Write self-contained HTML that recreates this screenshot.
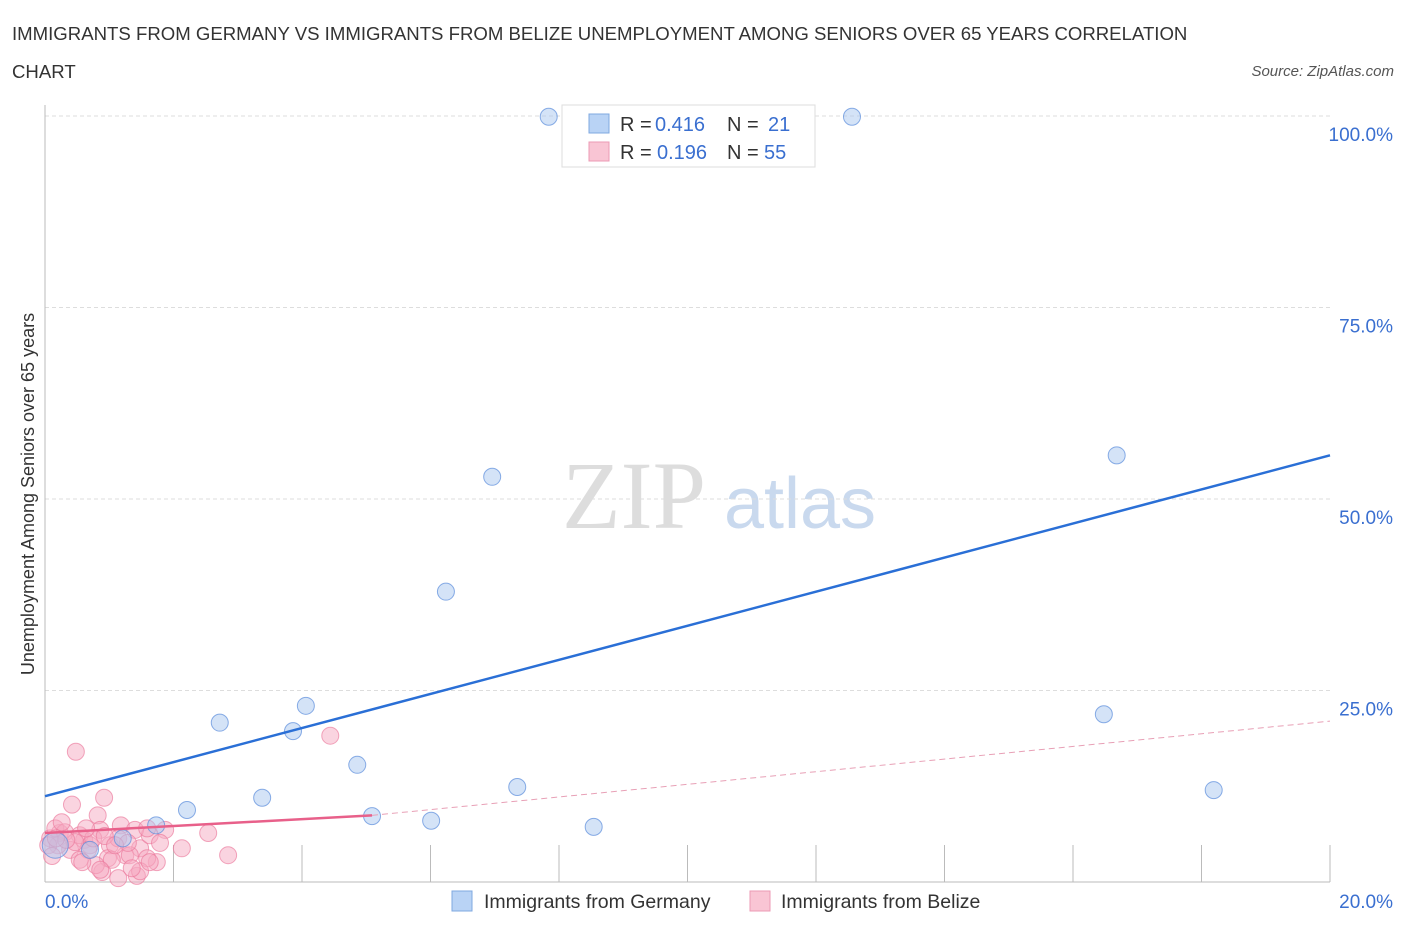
<!DOCTYPE html>
<html><head><meta charset="utf-8"><style>
body{margin:0;background:#fff;font-family:"Liberation Sans",sans-serif;}
</style></head><body>
<svg id="chart" width="1406" height="930" font-family="Liberation Sans, sans-serif">
<text x="12" y="40" font-size="18.6" fill="#333">IMMIGRANTS FROM GERMANY VS IMMIGRANTS FROM BELIZE UNEMPLOYMENT AMONG SENIORS OVER 65 YEARS CORRELATION</text>
<text x="12" y="78" font-size="18.6" fill="#333">CHART</text>
<text x="1394" y="76" font-size="15" fill="#555" font-style="italic" text-anchor="end">Source: ZipAtlas.com</text>
<text x="634" y="528" font-size="96" fill="#ddd" style="font-family:'Liberation Serif',serif" text-anchor="middle">ZIP</text>
<text x="800" y="528" font-size="72" fill="#c9d9ee" text-anchor="middle">atlas</text>
<text transform="translate(34,494) rotate(-90)" font-size="18" fill="#333" text-anchor="middle">Unemployment Among Seniors over 65 years</text>
<g id="grid"></g><g id="marks"></g>
<g>
<rect x="562" y="105" width="253" height="62" fill="#fff" stroke="#ddd"/>
<rect x="589" y="114" width="20" height="19" fill="#b9d3f5" stroke="#7fa8e0"/>
<rect x="589" y="142" width="20" height="19" fill="#f9c5d4" stroke="#ec9ab4"/>
<text x="620" y="131" font-size="20" fill="#333">R =</text>
<text x="655" y="131" font-size="20" fill="#3a6fd0">0.416</text>
<text x="727" y="131" font-size="20" fill="#333">N =</text>
<text x="768" y="131" font-size="20" fill="#3a6fd0">21</text>
<text x="620" y="159" font-size="20" fill="#333">R =</text>
<text x="657" y="159" font-size="20" fill="#3a6fd0">0.196</text>
<text x="727" y="159" font-size="20" fill="#333">N =</text>
<text x="764" y="159" font-size="20" fill="#3a6fd0">55</text>
</g>
<g>
<rect x="452" y="891" width="20" height="20" fill="#b9d3f5" stroke="#7fa8e0"/>
<text x="484" y="908" font-size="19.5" fill="#333">Immigrants from Germany</text>
<rect x="750" y="891" width="20" height="20" fill="#f9c5d4" stroke="#ec9ab4"/>
<text x="781" y="908" font-size="19.5" fill="#333">Immigrants from Belize</text>
</g>
</svg>
<script>
const xTicks=[0,20];
const yTicks=[25,50,75,100];
const germanyX=[7.84,12.56,16.68,6.96,6.24,4.06,2.72,3.86,16.48,4.86,7.35,18.19,3.38,2.21,5.09,6.01,8.54,1.73,1.21,0.16,0.7];
const germanyY=[99.9,99.9,55.7,52.9,37.9,23.0,20.8,19.7,21.9,15.3,12.4,12.0,11.0,9.4,8.6,8.0,7.2,7.4,5.7,4.8,4.2];
const belizeX=[0.48,4.44,0.42,0.92,0.82,1.18,0.86,0.61,0.23,0.08,0.16,0.31,0.54,0.70,0.39,0.20,1.01,1.25,1.48,1.87,1.63,1.40,0.89,1.14,1.43,1.32,0.98,0.79,2.13,2.54,2.85,1.74,1.59,1.48,0.67,0.54,1.04,0.26,0.05,0.11,0.47,0.75,1.14,1.29,1.79,1.59,0.93,0.58,0.86,0.33,0.17,0.64,1.09,1.35,1.63];
const belizeY=[17.0,19.1,10.1,11.0,8.7,7.4,6.8,5.5,6.4,5.7,7.0,6.5,6.1,4.8,4.2,4.8,4.8,3.5,4.4,6.8,6.1,6.8,1.3,0.5,0.8,3.5,3.1,2.2,4.4,6.4,3.5,2.6,3.1,1.4,4.2,2.9,2.9,7.8,4.8,3.4,5.2,5.7,5.7,5.1,5.1,7.0,6.0,2.6,1.6,5.5,5.7,7.0,4.8,1.8,2.6];
const germanyLine=[[0,11.2],[20,55.7]];
const belizeLine=[[0,6.4],[5.09,8.7]];
const belizeDash=[[5.09,8.7],[20,21.0]];
const X=v=>45+v/20*1285, Y=v=>882-v*7.66;
const NS="http://www.w3.org/2000/svg";
const grid=document.getElementById('grid'), marks=document.getElementById('marks');
function mk(p,tag,at){const e=document.createElementNS(NS,tag);for(const k in at)e.setAttribute(k,at[k]);p.appendChild(e);return e;}
yTicks.forEach(t=>{
 const l=mk(grid,'line',{x1:45,x2:1330,y1:Y(t),y2:Y(t),stroke:'#ddd','stroke-dasharray':'4,3'});
 
 
 const tx=mk(grid,'text',{x:1393,y:Y(t)+25,'font-size':19,fill:'#3a6fd0','text-anchor':'end'});
 tx.textContent=t.toFixed(1)+'%';
 
 
});
const ax=mk(grid,'line',{x1:45,x2:1330,y1:882,y2:882,stroke:'#bbb'});


const ay=mk(grid,'line',{x1:45,x2:45,y1:105,y2:882,stroke:'#bbb'});


for(let i=1;i<=10;i++){const t=mk(grid,'line',{x1:X(i*2),x2:X(i*2),y1:845,y2:882,stroke:'#bbb'});
 
 }
xTicks.forEach((t,i)=>{const tx=mk(grid,'text',{x:i?1393:45,y:908,'font-size':19,fill:'#3a6fd0','text-anchor':i?'end':'start'});
 tx.textContent=t.toFixed(1)+'%';
 
 });
belizeX.forEach((v,i)=>{const c=mk(marks,'circle',{cx:X(v),cy:Y(belizeY[i]),r:8.5,fill:'rgba(246,170,194,0.5)',stroke:'rgba(235,120,155,0.65)'});
 
 });
germanyX.forEach((v,i)=>{const c=mk(marks,'circle',{cx:X(v),cy:Y(germanyY[i]),r:i==19?13:8.5,fill:'rgba(170,200,240,0.5)',stroke:'rgba(90,140,220,0.7)'});
 
 });
const l1=mk(marks,'line',{x1:X(germanyLine[0][0]),y1:Y(germanyLine[0][1]),x2:X(germanyLine[1][0]),y2:Y(germanyLine[1][1]),stroke:'#2a6fd6','stroke-width':2.5});


const l2=mk(marks,'line',{x1:X(belizeLine[0][0]),y1:Y(belizeLine[0][1]),x2:X(belizeLine[1][0]),y2:Y(belizeLine[1][1]),stroke:'#e8608a','stroke-width':2.5});


const l3=mk(marks,'line',{x1:X(belizeDash[0][0]),y1:Y(belizeDash[0][1]),x2:X(belizeDash[1][0]),y2:Y(belizeDash[1][1]),stroke:'#e8a0b6','stroke-width':1,'stroke-dasharray':'6,4'});


</script>
</body></html>
